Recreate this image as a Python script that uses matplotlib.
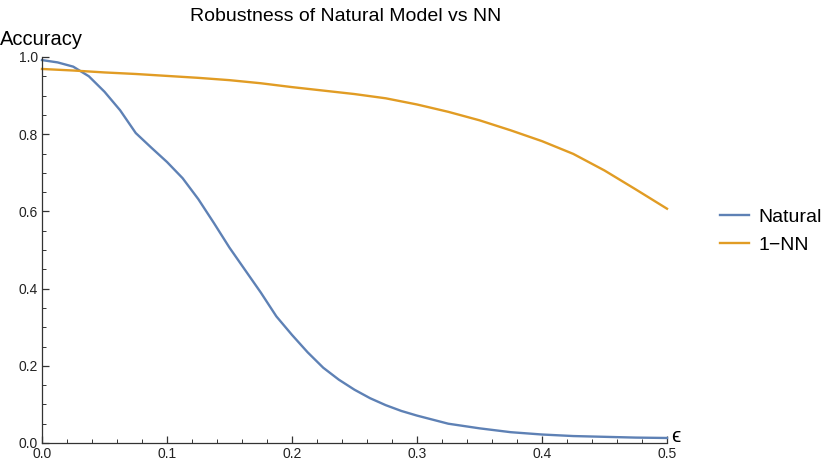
import matplotlib
matplotlib.use("Agg")
import matplotlib.pyplot as plt
from matplotlib.ticker import MultipleLocator, FormatStrFormatter

plt.rcParams['font.family'] = ['Liberation Sans', 'DejaVu Sans']

# natural model accuracy vs epsilon
eps_natural = [0.0, 0.0125, 0.025, 0.0375, 0.05, 0.0625, 0.075, 0.0875, 0.1,
               0.1125, 0.125, 0.1375, 0.15, 0.1625, 0.175, 0.1875, 0.2,
               0.2125, 0.225, 0.2375, 0.25, 0.2625, 0.275, 0.2875, 0.3,
               0.325, 0.35, 0.375, 0.4, 0.425, 0.45, 0.475, 0.5]
acc_natural = [0.992, 0.986, 0.975, 0.950, 0.910, 0.862, 0.803, 0.765, 0.728,
               0.686, 0.632, 0.570, 0.506, 0.448, 0.390, 0.328, 0.280,
               0.235, 0.195, 0.164, 0.138, 0.116, 0.098, 0.083, 0.071,
               0.050, 0.038, 0.028, 0.022, 0.018, 0.016, 0.014, 0.013]

# 1-NN accuracy vs epsilon
eps_nn = [0.0, 0.025, 0.05, 0.075, 0.1, 0.125, 0.15, 0.175, 0.2, 0.225, 0.25,
          0.275, 0.3, 0.325, 0.35, 0.375, 0.4, 0.425, 0.45, 0.475, 0.5]
acc_nn = [0.969, 0.965, 0.960, 0.956, 0.951, 0.946, 0.940, 0.932, 0.922, 0.913,
          0.904, 0.893, 0.877, 0.858, 0.836, 0.810, 0.782, 0.749, 0.706, 0.657,
          0.607]

blue = '#5E81B5'
orange = '#E19C24'
axcol = '#333333'

fig = plt.figure(figsize=(8.22, 4.63), dpi=100)
ax = fig.add_axes([42 / 822, 1 - 443 / 463, 625 / 822, 386 / 463])

ax.plot(eps_natural, acc_natural, color=blue, lw=1.7, label='Natural', clip_on=False)
ax.plot(eps_nn, acc_nn, color=orange, lw=1.7, label='1\u2212NN', clip_on=False)

ax.set_xlim(0, 0.5)
ax.set_ylim(0, 1.0)
ax.spines['top'].set_visible(False)
ax.spines['right'].set_visible(False)
for s in ['left', 'bottom']:
    ax.spines[s].set_color(axcol)
    ax.spines[s].set_linewidth(0.9)

ax.xaxis.set_major_locator(MultipleLocator(0.1))
ax.xaxis.set_minor_locator(MultipleLocator(0.02))
ax.yaxis.set_major_locator(MultipleLocator(0.2))
ax.yaxis.set_minor_locator(MultipleLocator(0.05))
ax.xaxis.set_major_formatter(FormatStrFormatter('%.1f'))
ax.yaxis.set_major_formatter(FormatStrFormatter('%.1f'))
ax.tick_params(which='both', direction='in', colors=axcol, labelcolor='#222222',
               labelsize=10)
ax.tick_params(which='major', length=5, width=0.9, pad=3)
ax.tick_params(which='minor', length=3, width=0.7)

fig.text(346 / 822, 1 - 21 / 463, 'Robustness of Natural Model vs NN',
         fontsize=14, ha='center', va='baseline')
fig.text(0.0, 1 - 45 / 463, 'Accuracy', fontsize=14.5, ha='left', va='baseline')
fig.text(671 / 822, 1 - 442 / 463, '\u03f5', fontsize=15, ha='left', va='baseline')

fig.legend(loc='center left', bbox_to_anchor=(702 / 822, 1 - 231 / 463),
           frameon=False, fontsize=14, handlelength=1.5, handletextpad=0.5,
           labelspacing=0.55)

fig.savefig('out.png', dpi=100)
